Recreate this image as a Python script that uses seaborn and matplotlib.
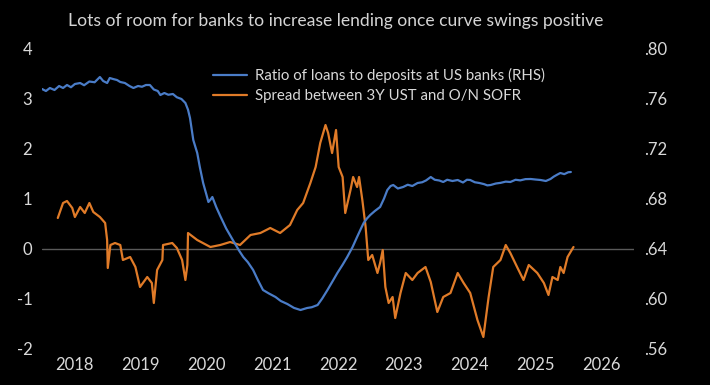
import pandas as pd
import matplotlib
matplotlib.use("Agg")
import matplotlib.pyplot as plt
import seaborn as sns

title = "Lots of room for banks to increase lending once curve swings positive"
label_ratio = "Ratio of loans to deposits at US banks (RHS)"
label_spread = "Spread between 3Y UST and O/N SOFR"

# loans / deposits ratio (right axis), time in fractional years
ratio_t = [2018.00, 2018.06, 2018.12, 2018.19, 2018.26, 2018.32, 2018.38, 2018.44, 2018.50, 2018.58,
           2018.64, 2018.72, 2018.80, 2018.88, 2018.93, 2018.99, 2019.03, 2019.08, 2019.14, 2019.19,
           2019.26, 2019.33, 2019.39, 2019.46, 2019.52, 2019.58, 2019.64, 2019.70, 2019.76, 2019.80,
           2019.86, 2019.92, 2019.99, 2020.05, 2020.12, 2020.18, 2020.22, 2020.25, 2020.30, 2020.36,
           2020.40, 2020.45, 2020.50, 2020.53, 2020.56, 2020.59, 2020.65, 2020.71, 2020.80, 2020.91,
           2021.00, 2021.06, 2021.13, 2021.21, 2021.28, 2021.36, 2021.45, 2021.55, 2021.63, 2021.73,
           2021.83, 2021.93, 2022.03, 2022.10, 2022.19, 2022.26, 2022.34, 2022.42, 2022.49, 2022.57,
           2022.64, 2022.72, 2022.79, 2022.85, 2022.89, 2022.94, 2022.99, 2023.06, 2023.14, 2023.20,
           2023.25, 2023.30, 2023.34, 2023.41, 2023.49, 2023.56, 2023.63, 2023.71, 2023.78, 2023.84,
           2023.91, 2023.97, 2024.04, 2024.10, 2024.16, 2024.24, 2024.32, 2024.40, 2024.46, 2024.51,
           2024.58, 2024.65, 2024.72, 2024.77, 2024.82, 2024.90, 2024.97, 2025.05, 2025.12, 2025.20,
           2025.27, 2025.35, 2025.43, 2025.50, 2025.58, 2025.66, 2025.73, 2025.78, 2025.83, 2025.88,
           2025.94, 2026.00, 2026.04]
ratio_v = [.7676, .7660, .7684, .7668, .7700, .7684, .7708, .7690, .7716, .7724,
           .7706, .7736, .7730, .7772, .7740, .7724, .7764, .7756, .7748, .7732,
           .7724, .7700, .7684, .7700, .7694, .7708, .7708, .7672, .7660, .7628,
           .7644, .7630, .7636, .7610, .7596, .7564, .7510, .7444, .7268, .7164,
           .7050, .6924, .6830, .6772, .6790, .6812, .6730, .6660, .6560, .6460,
           .6380, .6332, .6290, .6228, .6150, .6068, .6040, .6012, .5980, .5956,
           .5925, .5908, .5924, .5930, .5948, .6000, .6068, .6140, .6204, .6270,
           .6332, .6410, .6492, .6560, .6604, .6640, .6668, .6700, .6732, .6800,
           .6868, .6900, .6908, .6880, .6892, .6910, .6900, .6924, .6930, .6945,
           .6972, .6950, .6944, .6932, .6950, .6940, .6948, .6928, .6950, .6948,
           .6930, .6924, .6915, .6905, .6908, .6920, .6925, .6935, .6932, .6950,
           .6945, .6955, .6956, .6952, .6948, .6940, .6956, .6975, .6990, .7004,
           .6995, .7010, .7012]

# 3Y UST minus O/N SOFR spread (left axis)
spread_t = [2018.24, 2018.32, 2018.38, 2018.46, 2018.50, 2018.58, 2018.65, 2018.72, 2018.78, 2018.88,
            2018.96, 2018.99, 2019.00, 2019.04, 2019.11, 2019.19, 2019.23, 2019.34, 2019.42, 2019.49,
            2019.60, 2019.67, 2019.70, 2019.75, 2019.83, 2019.84, 2019.98, 2020.05, 2020.13, 2020.18,
            2020.21, 2020.22, 2020.36, 2020.56, 2020.71, 2020.86, 2021.01, 2021.17, 2021.32, 2021.47,
            2021.62, 2021.77, 2021.88, 2021.97, 2022.08, 2022.16, 2022.23, 2022.31, 2022.35, 2022.41,
            2022.47, 2022.51, 2022.57, 2022.61, 2022.69, 2022.73, 2022.79, 2022.82, 2022.87, 2022.92,
            2022.96, 2023.02, 2023.10, 2023.14, 2023.18, 2023.22, 2023.27, 2023.33, 2023.37, 2023.45,
            2023.53, 2023.63, 2023.71, 2023.83, 2023.91, 2024.01, 2024.10, 2024.21, 2024.32, 2024.41,
            2024.51, 2024.62, 2024.71, 2024.79, 2024.86, 2024.97, 2025.05, 2025.12, 2025.23, 2025.32,
            2025.40, 2025.53, 2025.63, 2025.70, 2025.76, 2025.84, 2025.88, 2025.93, 2025.99, 2026.08]
spread_v = [0.61, 0.91, 0.95, 0.81, 0.63, 0.83, 0.71, 0.91, 0.73, 0.63,
            0.51, 0.17, -0.39, 0.07, 0.11, 0.07, -0.23, -0.17, -0.37, -0.77,
            -0.57, -0.69, -1.09, -0.43, -0.23, 0.07, 0.11, 0.01, -0.23, -0.63,
            -0.33, 0.31, 0.17, 0.03, 0.07, 0.13, 0.07, 0.27, 0.31, 0.41,
            0.31, 0.47, 0.77, 0.91, 1.31, 1.63, 2.11, 2.47, 2.31, 1.91,
            2.37, 1.63, 1.43, 0.71, 1.17, 1.43, 1.23, 1.43, 0.97, 0.43,
            -0.23, -0.13, -0.49, -0.29, -0.03, -0.77, -1.09, -0.97, -1.39, -0.89,
            -0.49, -0.63, -0.49, -0.37, -0.67, -1.27, -0.97, -0.89, -0.49, -0.69,
            -0.89, -1.43, -1.77, -0.97, -0.37, -0.23, 0.07, -0.09, -0.39, -0.63,
            -0.33, -0.49, -0.69, -0.93, -0.57, -0.63, -0.37, -0.49, -0.17, 0.03]

years = [2018, 2019, 2020, 2021, 2022, 2023, 2024, 2025, 2026]
left_ticks = [-2, -1, 0, 1, 2, 3, 4]
right_ticks = [0.56, 0.60, 0.64, 0.68, 0.72, 0.76, 0.80]
right_labels = [".56", ".60", ".64", ".68", ".72", ".76", ".80"]

blue = "#4a7cc7"
orange = "#e07b28"
txt = "#d9d9d9"

sns.set_style("dark", {"axes.facecolor": "black", "figure.facecolor": "black"})
plt.rcParams["font.family"] = ["Lato", "DejaVu Sans"]

df_ratio = pd.DataFrame({"t": ratio_t, "v": ratio_v})
df_spread = pd.DataFrame({"t": spread_t, "v": spread_v})

fig = plt.figure(figsize=(7.1, 3.85), dpi=100)
ax = fig.add_axes([42 / 710, 36.5 / 385, 592 / 710, 300 / 385])
ax2 = ax.twinx()

sns.lineplot(data=df_spread, x="t", y="v", ax=ax, color=orange, linewidth=1.6, legend=False)
ax.axhline(0, color="#5a5a5a", linewidth=1, zorder=0)
sns.lineplot(data=df_ratio, x="t", y="v", ax=ax2, color=blue, linewidth=1.6, legend=False)

ax.set_xlim(2018, 2027)
ax.set_ylim(-2, 4)
ax2.set_ylim(0.56, 0.80)
ax.set_xticks([y + 0.5 for y in years])
ax.set_xticklabels([str(y) for y in years])
ax.set_yticks(left_ticks)
ax.set_yticklabels([str(v) for v in left_ticks])
ax2.set_yticks(right_ticks)
ax2.set_yticklabels(right_labels)
for a in (ax, ax2):
    a.set_xlabel("")
    a.set_ylabel("")
    a.grid(False)
    a.set_facecolor("none")
    for s in a.spines.values():
        s.set_visible(False)
ax.set_facecolor("black")
ax.tick_params(axis="x", length=0, colors=txt, labelsize=12, pad=6)
ax.tick_params(axis="y", length=0, colors=txt, labelsize=12, pad=7)
ax2.tick_params(axis="y", length=0, colors=txt, labelsize=12, pad=7)

fig.text(336 / 710, 1 - 21 / 385, title, color="#d4d4d4", fontsize=12.6, ha="center", va="center")

fig.legend(handles=[ax2.lines[0], ax.lines[0]], labels=[label_ratio, label_spread],
           loc="upper left", bbox_to_anchor=(213 / 710, 1 - 68 / 385), frameon=False,
           fontsize=10.8, handlelength=2.25, handletextpad=0.58, labelspacing=0.42,
           borderpad=0, borderaxespad=0, labelcolor=txt)

fig.savefig("out.png", dpi=100, facecolor="black")
